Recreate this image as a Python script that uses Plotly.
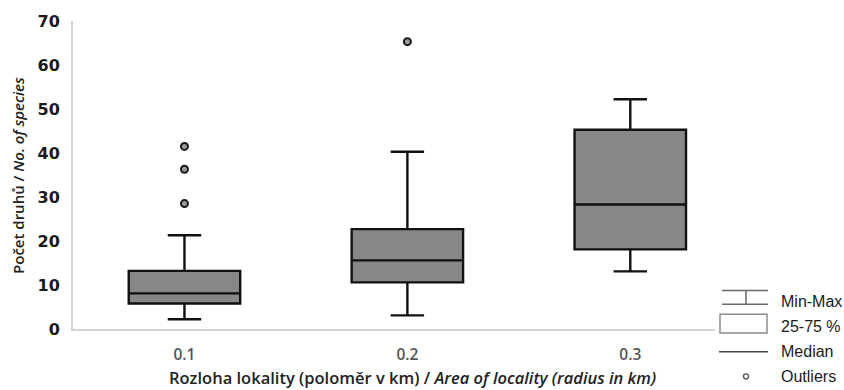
import plotly.graph_objects as go

# ---- data ----
categories = ["0.1", "0.2", "0.3"]
q1 = [5.8, 10.6, 18.1]
median = [8.1, 15.6, 28.3]
q3 = [13.2, 22.7, 45.3]
whisker_min = [2.2, 3.1, 13.1]
whisker_max = [21.3, 40.3, 52.2]
outlier_cat = [0, 0, 0, 1]
outlier_val = [28.5, 36.3, 41.5, 65.3]
y_ticks = [0, 10, 20, 30, 40, 50, 60, 70]
legend_labels = ["Min-Max", "25-75 %", "Median", "Outliers"]

W, H = 844, 390
L, R, T, B = 73, 129, 17, 61
PW, PH = W - L - R, H - T - B

def px(x):
    return (x - L) / PW

def py(y):
    return (H - B - y) / PH

fig = go.Figure()
fig.add_trace(go.Box(
    x=list(range(len(categories))),
    q1=q1, median=median, q3=q3,
    lowerfence=whisker_min, upperfence=whisker_max,
    width=0.5, whiskerwidth=0.3,
    fillcolor="#878787",
    line=dict(color="#111111", width=2.4),
    boxpoints=False, showlegend=False, hoverinfo="skip",
))
fig.add_trace(go.Scatter(
    x=outlier_cat, y=outlier_val, mode="markers",
    marker=dict(size=7, color="#9a9a9a", line=dict(color="#1a1a1a", width=2)),
    showlegend=False, hoverinfo="skip",
))

shapes = []
lc = "#6a6a6a"
# Min-Max symbol
shapes.append(dict(type="line", xref="paper", yref="paper", x0=px(722), x1=px(768), y0=py(290), y1=py(290), line=dict(color=lc, width=1.5)))
shapes.append(dict(type="line", xref="paper", yref="paper", x0=px(722), x1=px(768), y0=py(304), y1=py(304), line=dict(color=lc, width=1.5)))
shapes.append(dict(type="line", xref="paper", yref="paper", x0=px(746), x1=px(746), y0=py(290), y1=py(304), line=dict(color=lc, width=1.5)))
# box symbol
shapes.append(dict(type="rect", xref="paper", yref="paper", x0=px(720), x1=px(767), y0=py(333), y1=py(314), line=dict(color="#8a8a8a", width=1.5), fillcolor="white"))
# median symbol
shapes.append(dict(type="line", xref="paper", yref="paper", x0=px(719), x1=px(768), y0=py(352), y1=py(352), line=dict(color="#444444", width=1.5)))
# outlier symbol
shapes.append(dict(type="circle", xref="paper", yref="paper", x0=px(743.5), x1=px(748.5), y0=py(379.5), y1=py(374.5), line=dict(color="#555555", width=1.3)))

annotations = []
for lab, yy in zip(legend_labels, [301, 326, 351.5, 377]):
    annotations.append(dict(text=lab, xref="paper", yref="paper", x=px(779), y=py(yy),
                            xanchor="left", yanchor="middle", showarrow=False,
                            font=dict(family="Liberation Sans, Arial", size=16, color="#1a1a1a")))
annotations.append(dict(
    text="Rozloha lokality (poloměr v km) / <i>Area of locality (radius in km)</i>",
    xref="paper", yref="paper", x=px(413), y=py(378), xanchor="center", yanchor="middle",
    showarrow=False, font=dict(family="Open Sans", size=16.5, color="#222222", weight=600)))
annotations.append(dict(
    text="Počet druhů / <i>No. of species</i>",
    xref="paper", yref="paper", x=px(18), y=py(174), xanchor="center", yanchor="middle",
    textangle=-90, showarrow=False, font=dict(family="Open Sans", size=15, color="#222222", weight=600)))

fig.update_layout(
    width=W, height=H,
    margin=dict(l=L, r=R, t=T, b=B),
    paper_bgcolor="white", plot_bgcolor="white",
    shapes=shapes, annotations=annotations,
    xaxis=dict(range=[-0.5, 2.38], tickmode="array", tickvals=list(range(len(categories))),
               ticktext=categories, showgrid=False, zeroline=False,
               showline=True, linecolor="#d4d4d4", linewidth=2, ticks="",
               ticklabelstandoff=10,
               tickfont=dict(family="Open Sans", size=15.5, color="#555555", weight=600)),
    yaxis=dict(range=[0, 70], tickmode="array", tickvals=y_ticks, showgrid=False, zeroline=False,
               showline=True, linecolor="#d4d4d4", linewidth=2, ticks="",
               ticklabelstandoff=8,
               tickfont=dict(family="DejaVu Sans", size=16, color="#1a1a1a", weight="bold")),
)

fig.write_html("out.html")
